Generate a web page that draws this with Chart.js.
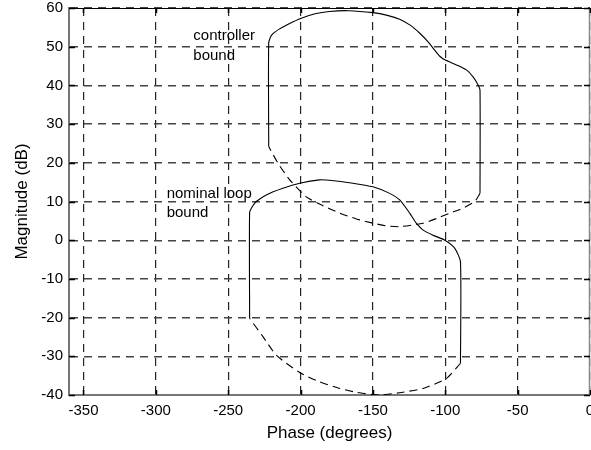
<!DOCTYPE html>
<html>
<head>
<meta charset="utf-8">
<script src="https://cdn.jsdelivr.net/npm/chart.js@4/dist/chart.umd.min.js"></script>
<style>
  html, body { margin: 0; padding: 0; background: #fff; }
</style>
</head>
<body>
<canvas id="chart" width="591" height="450"></canvas>
<script>
'use strict';

const phaseTicks = [-350, -300, -250, -200, -150, -100, -50, 0];
const magTicks = [-40, -30, -20, -10, 0, 10, 20, 30, 40, 50, 60];

// controller bound, solid part (left side, top, right side)
const ctrlPhase = [-222, -222, -220, -214.5, -207.5, -200, -190, -180, -167, -150, -140, -131.5, -124, -118, -112, -107.3, -104, -100.3, -92.3, -85.4, -80.8, -77.3, -76, -76];
const ctrlMag = [24.2, 51, 53, 54.6, 56, 57.3, 58.5, 59.1, 59.3, 58.8, 58.1, 57.1, 55.5, 53.6, 51.3, 49.1, 47.6, 46.6, 45.3, 44, 42.2, 40.1, 38.8, 12.1];
// controller bound, dashed lower edge
const ctrlLowPhase = [-76, -79.6, -87.7, -96.9, -106, -115.3, -131.5, -140.7, -150, -161.4, -173, -184.5, -196, -207.5, -215.6, -222];
const ctrlLowMag = [12.1, 10, 8.3, 7, 5.6, 4.4, 3.5, 3.7, 4.4, 5.5, 7, 8.9, 11.2, 15.6, 19.9, 24.2];

// nominal loop bound, solid part
const loopPhase = [-235.2, -235.2, -233.5, -230.6, -223.7, -212.2, -200.6, -186.8, -180, -165, -150, -138.4, -131.5, -124.6, -120, -115.3, -108.5, -100.3, -93.4, -89.5, -89.5];
const loopMag = [-20.2, 7.2, 8.6, 10, 11.7, 13.4, 14.7, 15.6, 15.5, 14.8, 13.8, 12.1, 10.4, 7, 4.4, 2.6, 1.3, 0, -2.1, -5.6, -31.8];
// nominal loop bound, dashed lower edge
const loopLowPhase = [-89.5, -99.2, -115.3, -131.5, -145, -150, -161.4, -173, -186.8, -200.6, -216.8, -226, -235.2];
const loopLowMag = [-31.8, -35.7, -38.3, -39.4, -40, -39.9, -39.3, -38.3, -36.6, -34.2, -29.7, -24.9, -20.2];

function toPoints(xs, ys) {
  return xs.map((x, i) => ({x: x, y: ys[i]}));
}

function curve(xs, ys, dashed) {
  return {
    data: toPoints(xs, ys),
    showLine: true,
    borderColor: '#000',
    borderWidth: 1.1,
    borderDash: dashed ? [8, 5] : [],
    pointRadius: 0,
    tension: 0.2,
    fill: false
  };
}

const FONT = 'Arial, "Liberation Sans", sans-serif';

// box on top/right, inward tick marks and the two text notes
const framePlugin = {
  id: 'frame',
  afterDraw(chart) {
    const ctx = chart.ctx;
    const a = chart.chartArea;
    const xs = chart.scales.x;
    const ys = chart.scales.y;
    ctx.save();
    ctx.setLineDash([]);
    ctx.lineWidth = 1;
    ctx.strokeStyle = '#000';
    ctx.beginPath();
    ctx.moveTo(a.left, a.top + 0.5);
    ctx.lineTo(a.right, a.top + 0.5);
    ctx.stroke();
    ctx.strokeStyle = '#888';
    ctx.lineWidth = 1.5;
    ctx.beginPath();
    ctx.moveTo(a.right - 0.5, a.top);
    ctx.lineTo(a.right - 0.5, a.bottom);
    ctx.stroke();

    ctx.strokeStyle = '#000';
    ctx.lineWidth = 1.5;
    ctx.beginPath();
    phaseTicks.forEach(v => {
      const px = Math.round(xs.getPixelForValue(v)) + 0.5;
      ctx.moveTo(px, a.bottom);
      ctx.lineTo(px, a.bottom - 5);
      ctx.moveTo(px, a.top);
      ctx.lineTo(px, a.top + 5);
    });
    magTicks.forEach(v => {
      const py = Math.round(ys.getPixelForValue(v)) + 0.5;
      ctx.moveTo(a.left, py);
      ctx.lineTo(a.left + 6, py);
      ctx.moveTo(a.right, py);
      ctx.lineTo(a.right - 6, py);
    });
    ctx.stroke();

    ctx.fillStyle = '#000';
    ctx.font = '15px ' + FONT;
    ctx.textAlign = 'left';
    ctx.textBaseline = 'alphabetic';
    const notes = [
      {text: 'controller', x: -274.1, y: 51.7},
      {text: 'bound', x: -274.1, y: 46.6},
      {text: 'nominal loop', x: -292.5, y: 10.8},
      {text: 'bound', x: -292.5, y: 5.9}
    ];
    notes.forEach(n => {
      ctx.fillText(n.text, xs.getPixelForValue(n.x), ys.getPixelForValue(n.y));
    });
    ctx.restore();
  }
};

new Chart(document.getElementById('chart'), {
  type: 'scatter',
  data: {
    datasets: [
      curve(ctrlPhase, ctrlMag, false),
      curve(ctrlLowPhase, ctrlLowMag, true),
      curve(loopPhase, loopMag, false),
      curve(loopLowPhase, loopLowMag, true)
    ]
  },
  options: {
    responsive: false,
    devicePixelRatio: 1,
    animation: false,
    layout: { padding: { top: 8, right: 1, left: 0, bottom: 0 } },
    plugins: {
      legend: { display: false },
      tooltip: { enabled: false }
    },
    scales: {
      x: {
        type: 'linear',
        min: -360,
        max: 0,
        afterBuildTicks: scale => { scale.ticks = phaseTicks.map(v => ({value: v})); },
        afterFit: scale => {
          scale.height = 55;
          scale.paddingLeft = 0;
          scale.paddingRight = 0;
        },
        ticks: {
          color: '#000',
          font: { family: FONT, size: 15 },
          padding: 7,
          maxRotation: 0,
          autoSkip: false
        },
        grid: { color: '#222', lineWidth: 1.2, drawTicks: false },
        border: { display: true, color: '#777', width: 2, dash: [8, 6] },
        title: {
          display: true,
          text: 'Phase (degrees)',
          color: '#000',
          font: { family: FONT, size: 17 },
          padding: { top: 0, bottom: 6 }
        }
      },
      y: {
        type: 'linear',
        min: -40,
        max: 60,
        afterBuildTicks: scale => { scale.ticks = magTicks.map(v => ({value: v})); },
        afterFit: scale => {
          scale.width = 69;
          scale.paddingTop = 0;
          scale.paddingBottom = 0;
        },
        ticks: {
          color: '#000',
          font: { family: FONT, size: 15 },
          padding: 6
        },
        grid: { color: '#444', lineWidth: 1.4, drawTicks: false },
        border: { display: true, color: '#777', width: 2, dash: [8, 6] },
        title: {
          display: true,
          text: 'Magnitude (dB)',
          color: '#000',
          font: { family: FONT, size: 17 },
          padding: { top: 12, bottom: 0 }
        }
      }
    }
  },
  plugins: [framePlugin]
});
</script>
</body>
</html>
